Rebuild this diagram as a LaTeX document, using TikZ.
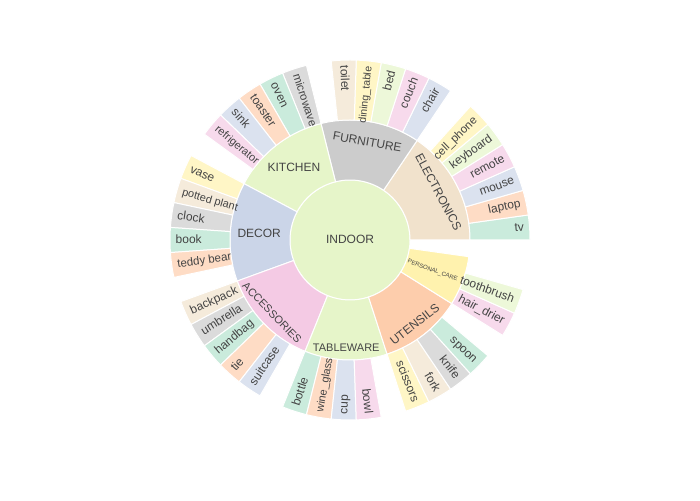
\documentclass[tikz,border=0pt]{standalone}
\usepackage{fontspec}
\setmainfont{Liberation Sans}
\definecolor{pA}{HTML}{B3E2CD}
\definecolor{pB}{HTML}{FDCDAC}
\definecolor{pC}{HTML}{CBD5E8}
\definecolor{pD}{HTML}{F4CAE4}
\definecolor{pE}{HTML}{E6F5C9}
\definecolor{pF}{HTML}{FFF2AE}
\definecolor{pG}{HTML}{F1E2CC}
\definecolor{pH}{HTML}{CCCCCC}
\definecolor{txt}{HTML}{444444}
\tikzset{
  lbl/.style={inner sep=0pt, text=txt, text height=0.9em, text depth=0.21em},
}
\newcommand{\sbsector}[5]{%
  \filldraw[fill=#5, draw=white, line width=1pt] (#1:#3) arc[start angle=#1, end angle=#2, radius=#3] -- (#2:#4) arc[start angle=#2, end angle=#1, radius=#4] -- cycle;}
\newcommand{\sbleafR}[5]{%
  \pgfmathsetmacro{\sbe}{#2+8}\pgfmathsetmacro{\sbm}{#2+4}%
  \sbsector{#2}{\sbe}{120}{180}{#3!70!white}%
  \node[lbl, font=\fontsize{#5}{#5}\selectfont, rotate=\sbm, anchor=east] (#1) at (\sbm:174.5) {#4};}
\newcommand{\sbleafL}[5]{%
  \pgfmathsetmacro{\sbe}{#2+8}\pgfmathsetmacro{\sbm}{#2+4}%
  \sbsector{#2}{\sbe}{120}{180}{#3!70!white}%
  \node[lbl, font=\fontsize{#5}{#5}\selectfont, rotate=\sbm+180, anchor=west] (#1) at (\sbm:174.5) {#4};}
\begin{document}
\begin{tikzpicture}[x=1pt,y=1pt]
\useasboundingbox (0,0) rectangle (700,500);
\fill[white] (0,0) rectangle (700,500);
\begin{scope}[shift={(350,260)}]
% centre and middle ring
\filldraw[fill=pE, draw=white, line width=1pt] (0,0) circle (60);
\sbsector{0}{56}{60}{120}{pG}
\sbsector{56}{104}{60}{120}{pH}
\sbsector{104}{152}{60}{120}{pE}
\sbsector{152}{200}{60}{120}{pC}
\sbsector{200}{248}{60}{120}{pD}
\sbsector{248}{288}{60}{120}{pE}
\sbsector{288}{328}{60}{120}{pB}
\sbsector{328}{352}{60}{120}{pF}
% leaves: ELECTRONICS
\sbleafR{tv}{0}{pA}{tv}{12}
\sbleafR{laptop}{8}{pB}{laptop}{12}
\sbleafR{mouse}{16}{pC}{mouse}{12}
\sbleafR{remote}{24}{pD}{remote}{12}
\sbleafR{keyboard}{32}{pE}{keyboard}{12}
\sbleafR{cellphone}{40}{pF}{cell\_phone}{11.5}
% FURNITURE
\sbleafR{chair}{56}{pC}{chair}{12}
\sbleafR{couch}{64}{pD}{couch}{12}
\sbleafR{bed}{72}{pE}{bed}{12}
\sbleafR{diningtable}{80}{pF}{dining\_table}{10.5}
\sbleafL{toilet}{88}{pG}{toilet}{12}
% KITCHEN
\sbleafL{microwave}{104}{pH}{microwave}{11.5}
\sbleafL{oven}{112}{pA}{oven}{12}
\sbleafL{toaster}{120}{pB}{toaster}{12}
\sbleafL{sink}{128}{pC}{sink}{12}
\sbleafL{refrigerator}{136}{pD}{refrigerator}{11}
% DECOR
\sbleafL{vase}{152}{pF}{vase}{12}
\sbleafL{pottedplant}{160}{pG}{potted plant}{11}
\sbleafL{clock}{168}{pH}{clock}{12}
\sbleafL{book}{176}{pA}{book}{12}
\sbleafL{teddybear}{184}{pB}{teddy bear}{11.5}
% ACCESSORIES
\sbleafL{backpack}{200}{pG}{backpack}{12}
\sbleafL{umbrella}{208}{pH}{umbrella}{12}
\sbleafL{handbag}{216}{pA}{handbag}{12}
\sbleafL{tie}{224}{pB}{tie}{12}
\sbleafL{suitcase}{232}{pC}{suitcase}{12}
% TABLEWARE
\sbleafL{bottle}{248}{pA}{bottle}{12}
\sbleafL{wineglass}{256}{pB}{wine\_glass}{11}
\sbleafL{cup}{264}{pC}{cup}{12}
\sbleafR{bowl}{272}{pD}{bowl}{12}
% UTENSILS
\sbleafR{scissors}{288}{pF}{scissors}{12}
\sbleafR{fork}{296}{pG}{fork}{12}
\sbleafR{knife}{304}{pH}{knife}{12}
\sbleafR{spoon}{312}{pA}{spoon}{12}
% PERSONAL_CARE
\sbleafR{hairdrier}{328}{pD}{hair\_drier}{12}
\sbleafR{toothbrush}{336}{pE}{toothbrush}{12}
% middle labels
\node[lbl, font=\fontsize{12}{12}\selectfont] (indoor) at (0,0) {INDOOR};
\node[lbl, font=\fontsize{12}{12}\selectfont, rotate=-10] (furniture) at (80:99) {FURNITURE};
\node[lbl, font=\fontsize{12}{12}\selectfont, rotate=-62] (electronics) at (28.5:100) {ELECTRONICS};
\node[lbl, font=\fontsize{12}{12}\selectfont] (kitchen) at (128:91) {KITCHEN};
\node[lbl, font=\fontsize{12}{12}\selectfont] (decor) at (176:91) {DECOR};
\node[lbl, font=\fontsize{11}{11}\selectfont, rotate=-46] (accessories) at (223:107) {ACCESSORIES};
\node[lbl, font=\fontsize{11}{11}\selectfont] (tableware) at (268:108) {TABLEWARE};
\node[lbl, font=\fontsize{12}{12}\selectfont, rotate=38] (utensils) at (307.5:107) {UTENSILS};
\node[lbl, font=\fontsize{6}{6}\selectfont, rotate=-20] (personalcare) at (341:88) {PERSONAL\_CARE};
\end{scope}
\end{tikzpicture}
\end{document}
